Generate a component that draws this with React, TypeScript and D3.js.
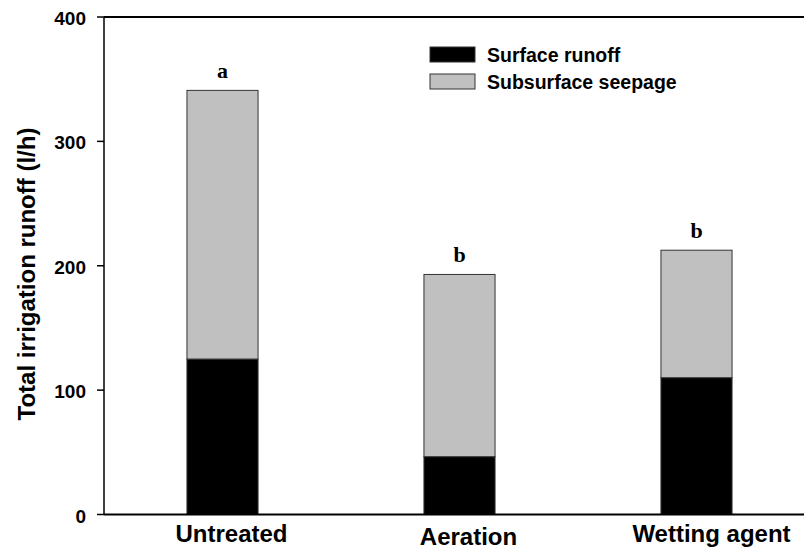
import React from "react";
import * as d3 from "d3";

const categories = ["Untreated", "Aeration", "Wetting agent"];
const surfaceRunoff = [125, 46.5, 110];
const subsurfaceSeepage = [216, 146.5, 102.5];
const sigLabels = ["a", "b", "b"];
const yTicks = [0, 100, 200, 300, 400];
const seriesNames = ["Surface runoff", "Subsurface seepage"];
const seriesColors = ["#000000", "#c0c0c0"];
const labelDy = [0, 3, 0];
const labelDx = [9, 9, 15];

export default function App() {
  const W = 804, H = 550;
  const left = 104, top = 17, bottom = 514.5;
  const x = d3.scaleBand<string>().domain(categories).range([left, 815]).paddingInner(0.7).paddingOuter(0.35);
  const y = d3.scaleLinear().domain([0, 400]).range([bottom, top]);
  const data = categories.map((c, i) => ({ c, s: surfaceRunoff[i], g: subsurfaceSeepage[i] }));
  const stack = d3.stack<any>().keys(["s", "g"])(data);
  const bw = x.bandwidth();
  const sans = "Liberation Sans, Arial, sans-serif";
  return (
    <svg width={W} height={H} style={{ position: "absolute", left: 0, top: 0, background: "#fff" }}>
      {stack.map((layer, li) =>
        layer.map((d, i) => (
          <rect key={li + "-" + i} x={x(categories[i])!} y={y(d[1])} width={bw} height={y(d[0]) - y(d[1])}
            fill={seriesColors[li]} stroke="#333" strokeWidth={1} />
        ))
      )}
      {categories.map((c, i) => (
        <text key={"sig" + i} x={x(c)! + bw / 2} y={y(surfaceRunoff[i] + subsurfaceSeepage[i]) - 12}
          textAnchor="middle" fontFamily="Liberation Serif, Times New Roman, serif" fontWeight="bold" fontSize={22}>
          {sigLabels[i]}
        </text>
      ))}
      <line x1={left} x2={W} y1={top} y2={top} stroke="#000" strokeWidth={2} />
      <line x1={left} x2={W} y1={bottom} y2={bottom} stroke="#000" strokeWidth={2} />
      <line x1={left} x2={left} y1={top} y2={bottom} stroke="#000" strokeWidth={1.5} />
      {yTicks.map((t) => (
        <g key={"t" + t}>
          <line x1={left - 7} x2={left} y1={y(t)} y2={y(t)} stroke="#000" strokeWidth={1.5} />
          <text x={86} y={y(t) + 8} textAnchor="end" fontFamily={sans} fontWeight="bold" fontSize={19}>
            {t}
          </text>
        </g>
      ))}
      {categories.map((c, i) => (
        <text key={"xl" + i} x={x(c)! + bw / 2 + labelDx[i]} y={542 + labelDy[i]} textAnchor="middle"
          fontFamily={sans} fontWeight="bold" fontSize={24}>
          {c}
        </text>
      ))}
      <text transform={`translate(35,274) rotate(-90)`} textAnchor="middle"
        fontFamily={sans} fontWeight="bold" fontSize={24}>
        Total irrigation runoff (l/h)
      </text>
      {seriesNames.map((n, i) => (
        <g key={"lg" + i}>
          <rect x={430} y={47 + i * 27} width={45} height={15} fill={seriesColors[i]} stroke="#333" strokeWidth={1} />
          <text x={487} y={61.5 + i * 27} fontFamily={sans} fontWeight="bold" fontSize={19.5}>
            {n}
          </text>
        </g>
      ))}
    </svg>
  );
}
